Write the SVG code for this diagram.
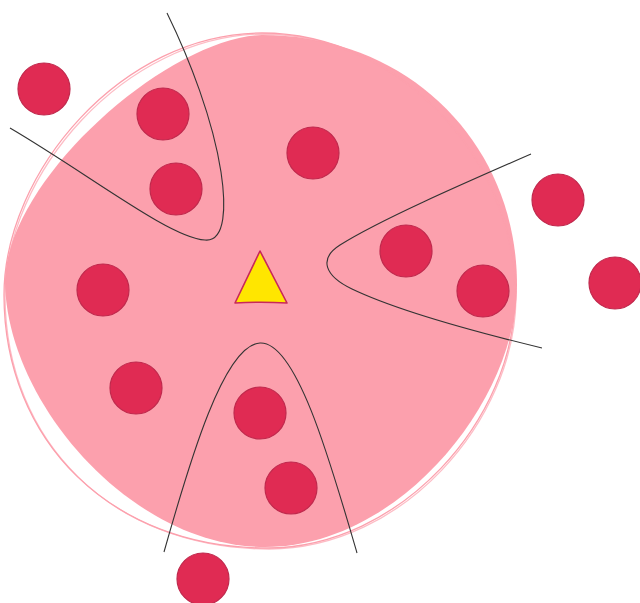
<svg xmlns="http://www.w3.org/2000/svg" width="640" height="603" viewBox="0 0 640 603">
<style>
.dot{fill:#e02b53;stroke:#c0294d;stroke-width:1.2}
.ring{fill:none;stroke:#fca0ad;stroke-width:1.3}
.curve{fill:none;stroke:#333;stroke-width:1.1}
</style>
<rect width="640" height="603" fill="#fff"/>
<g id="region">
<path d="M262,35 C410,35 517,145 517,285 C517,400 400,547 265,547 C130,547 5,400 5,280 C8,178 168,38 262,35 Z" fill="#fca0ad"/>
<path class="ring" d="M262,33 C400,33 515,160 515,295 C515,420 400,548 267,548 C110,548 4,440 4,295 C4,172 122,33 262,33 Z"/>
<path class="ring" d="M264,34 C402,35 517,162 516,297 C515,422 402,549 269,549 C112,549 6,442 5,297 C5,174 124,35 264,34 Z" opacity="0.7"/>
</g>
<g id="dots">
<circle id="n1" class="dot" cx="44" cy="89" r="26"/>
<circle id="n2" class="dot" cx="163" cy="114" r="26"/>
<circle id="n3" class="dot" cx="176" cy="189" r="26"/>
<circle id="n4" class="dot" cx="313" cy="153" r="26"/>
<circle id="n5" class="dot" cx="558" cy="200" r="26"/>
<circle id="n6" class="dot" cx="406" cy="251" r="26"/>
<circle id="n7" class="dot" cx="483" cy="291" r="26"/>
<circle id="n8" class="dot" cx="615" cy="283" r="26"/>
<circle id="n9" class="dot" cx="103" cy="290" r="26"/>
<circle id="n10" class="dot" cx="136" cy="388" r="26"/>
<circle id="n11" class="dot" cx="260" cy="413" r="26"/>
<circle id="n12" class="dot" cx="291" cy="488" r="26"/>
<circle id="n13" class="dot" cx="203" cy="579" r="26"/>
</g>
<g id="center">
<path d="M260,251 L287,303 C270,302 252,302 235,303 Z" fill="#ffe600" stroke="#c8285a" stroke-width="1.6" stroke-linejoin="round"/>
</g>
<g id="connectors">
<path class="curve" d="M10,128 C90,175 170,238 205,240 C226,242 226,205 221,172 C213,120 190,60 167,13"/>
<path class="curve" d="M531,154 C460,185 380,220 340,245 C318,259 325,276 352,289 C400,312 480,333 542,348"/>
<path class="curve" d="M164,552 C190,460 224,345 260,343 C296,341 330,460 357,553"/>
</g>
</svg>
